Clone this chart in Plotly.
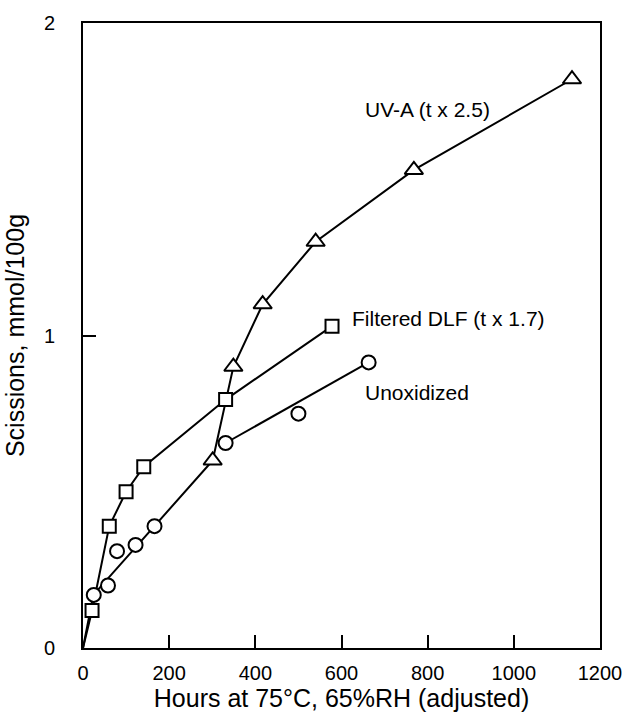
import plotly.graph_objects as go

# Data
uva_x = [301, 349, 417, 540, 768, 1135]
uva_y = [0.60, 0.90, 1.10, 1.30, 1.53, 1.82]
uva_line_x = [0, 24] + uva_x
uva_line_y = [0, 0.17] + uva_y

dlf_x = [21, 61, 100, 141, 331, 578]
dlf_y = [0.12, 0.39, 0.50, 0.58, 0.795, 1.03]
dlf_line_x = [0] + dlf_x
dlf_line_y = [0] + dlf_y

unox_x = [25, 58, 79, 122, 166, 331, 500, 663]
unox_y = [0.17, 0.20, 0.31, 0.33, 0.39, 0.656, 0.75, 0.914]
unox_line_x = [331, 663]
unox_line_y = [0.656, 0.914]

x_ticks = [0, 200, 400, 600, 800, 1000, 1200]
y_ticks = [0, 1, 2]

FONT = "Liberation Sans, Arial, sans-serif"

fig = go.Figure()

line_style = dict(color="black", width=2)

fig.add_trace(go.Scatter(x=uva_line_x, y=uva_line_y, mode="lines", line=line_style, hoverinfo="skip"))
fig.add_trace(go.Scatter(x=dlf_line_x, y=dlf_line_y, mode="lines", line=line_style, hoverinfo="skip"))
fig.add_trace(go.Scatter(x=unox_line_x, y=unox_line_y, mode="lines", line=line_style, hoverinfo="skip"))

fig.add_trace(go.Scatter(x=unox_x, y=unox_y, mode="markers",
                         marker=dict(symbol="circle", size=14, color="white",
                                     line=dict(color="black", width=2))))
fig.add_trace(go.Scatter(x=dlf_x, y=dlf_y, mode="markers",
                         marker=dict(symbol="square", size=13, color="white",
                                     line=dict(color="black", width=2))))
fig.add_trace(go.Scatter(x=uva_x, y=uva_y, mode="markers",
                         marker=dict(symbol="triangle-up", size=16, color="white",
                                     line=dict(color="black", width=2))))

annots = [
    dict(x=650, y=1.722, text="UV-A (t x 2.5)"),
    dict(x=620, y=1.055, text="Filtered DLF (t x 1.7)"),
    dict(x=650, y=0.818, text="Unoxidized"),
]
for a in annots:
    fig.add_annotation(x=a["x"], y=a["y"], text=a["text"], showarrow=False,
                       xanchor="left", yanchor="middle",
                       font=dict(family=FONT, size=21, color="black"))

fig.update_layout(
    width=634, height=720,
    margin=dict(l=83, r=26, t=18, b=69),
    paper_bgcolor="white", plot_bgcolor="white",
    showlegend=False,
    font=dict(family=FONT, size=20, color="black"),
)

fig.update_xaxes(
    range=[0, 1200], tickvals=x_ticks, ticktext=[str(v) for v in x_ticks],
    ticks="inside", ticklen=13, tickwidth=2, tickcolor="black",
    showline=True, linecolor="black", linewidth=2, mirror=True,
    showgrid=False, zeroline=False,
    title=dict(text="Hours at 75°C, 65%RH (adjusted)", font=dict(size=25), standoff=6),
    tickfont=dict(size=20), ticklabelstandoff=6,
)
fig.update_yaxes(
    range=[0, 2], tickvals=y_ticks, ticktext=[str(v) for v in y_ticks],
    ticks="inside", ticklen=13, tickwidth=2, tickcolor="black",
    showline=True, linecolor="black", linewidth=2, mirror=True,
    showgrid=False, zeroline=False,
    title=dict(text="Scissions, mmol/100g", font=dict(size=25), standoff=12),
    tickfont=dict(size=20), ticklabelstandoff=22,
)

fig.write_html("out.html")
